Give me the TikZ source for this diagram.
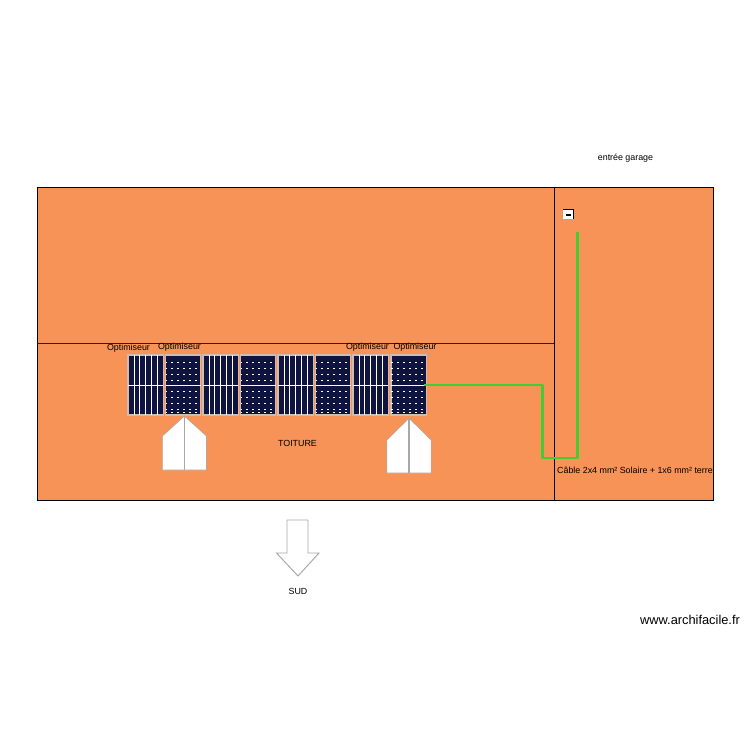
\documentclass[tikz,border=0pt]{standalone}
\usepackage{fontspec}
\setmainfont{Liberation Sans}
\definecolor{roof}{HTML}{F79356}
\definecolor{panelblue}{HTML}{0F1340}
\definecolor{panelrim}{HTML}{D0BDB0}
\definecolor{cable}{HTML}{44CC33}
\definecolor{outlinegray}{HTML}{A8A8A8}
\tikzset{
  x=0.02cm,y=-0.02cm,
  lbl/.style={inner sep=0pt,font=\fontsize{5.05}{6}\selectfont,text=black},
  wmark/.style={inner sep=0pt,font=\fontsize{7.3}{8.5}\selectfont,text=black},
  roofbox/.style={fill=roof,draw=black,line width=0.5pt},
  ridge/.style={draw=black!80!roof,line width=0.85pt},
  panelbody/.style={fill=panelblue,draw=panelrim,line width=0.6pt},
  cell/.style={draw=white,line width=0.45pt},
  dotline/.style={draw=white,line width=0.5pt,dash pattern=on 1pt off 2.4pt},
  cablepath/.style={draw=cable,line width=1.7pt,line join=round},
  house/.style={fill=white,draw=outlinegray!70!roof,line width=0.45pt},
  housemid/.style={draw=outlinegray,line width=0.6pt},
  arrowshape/.style={fill=white,draw=outlinegray,line width=0.55pt},
}
\newcommand{\stripedpanel}[1]{%
  \draw[panelbody] (#1,355) rectangle ++(35.4,60);
  \foreach \k in {1,...,5} \draw[cell] ({#1+5.9*\k},355) -- ({#1+5.9*\k},415);
  \draw[cell] (#1,385) -- ++(35.4,0);
}
\newcommand{\dottedpanel}[1]{%
  \draw[panelbody] (#1,355) rectangle ++(35.4,60);
  \foreach \k in {0,...,3} {
    \draw[dotline] (#1,{362+6*\k}) -- ++(35.4,0);
    \draw[dotline] (#1,{391+6*\k}) -- ++(35.4,0);
  }
  \draw[dotline] (#1,{385+27}) -- ++(35.4,0);
  \draw[cell] (#1,385) -- ++(35.4,0);
}
\begin{document}
\begin{tikzpicture}
\useasboundingbox (0,0) rectangle (750,750);
\fill[white] (0,0) rectangle (750,750);
% roof
\draw[roofbox] (37,187) rectangle (713.5,500);
\draw[ridge] (37,343.5) -- (554,343.5);
\draw[roofbox,fill=none] (554,187) -- (554,500);
% panels
\stripedpanel{128}
\dottedpanel{165.5}
\stripedpanel{203}
\dottedpanel{240.5}
\stripedpanel{278}
\dottedpanel{315.5}
\stripedpanel{353}
\dottedpanel{391}
% dormers
\draw[house] (162.3,436) -- (184.4,416) -- (206.6,436) -- (206.6,470) -- (162.3,470) -- cycle;
\draw[housemid] (184.4,416) -- (184.4,470);
\draw[house] (386.8,440) -- (409,418) -- (431.2,440) -- (431.2,473) -- (386.8,473) -- cycle;
\draw[housemid] (409,418) -- (409,473);
% cable
\coordinate (cableA) at (424,385);
\coordinate (cableB) at (542,385);
\coordinate (cableC) at (542,458);
\coordinate (cableD) at (577,458);
\coordinate (cableE) at (577,232);
\draw[cablepath] (cableA) -- (cableB) -- (cableC) -- (cableD) -- (cableE);
% box
\fill[white] (563,209) rectangle (573.5,219);
\draw[black,line width=0.6pt] (563,209.3) -- (573.5,209.3) -- (573.5,219);
\draw[black,line width=0.8pt] (565.5,215) -- (571,215);
% south arrow
\draw[arrowshape] (287,520) -- (308,520) -- (308,553) -- (319,553) -- (298,576) -- (276.5,553) -- (287,553) -- cycle;
% labels
\node[lbl] (opt1) at (128.5,348.5) {Optimiseur};
\node[lbl] (opt2) at (179.5,347.5) {Optimiseur};
\node[lbl] (opt3) at (367.5,347.5) {Optimiseur};
\node[lbl] (opt4) at (415,347.5) {Optimiseur};
\node[lbl] (toit) at (297.5,443.5) {TOITURE};
\node[lbl] (gar) at (625.5,158) {entrée garage};
\node[lbl] (cab) at (635,470.5) {Câble 2x4 mm² Solaire + 1x6 mm² terre};
\node[lbl] (sud) at (298,591) {SUD};
\node[wmark] (wm) at (690,619.5) {www.archifacile.fr};
\end{tikzpicture}
\end{document}
